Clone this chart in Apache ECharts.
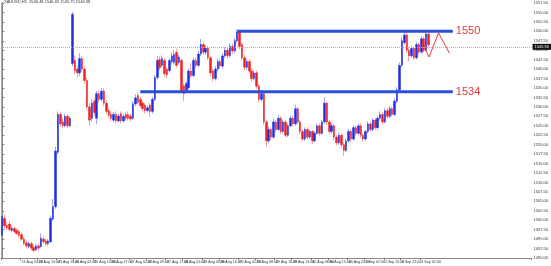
<!DOCTYPE html>
<html><head><meta charset="utf-8">
<script src="https://cdn.jsdelivr.net/npm/echarts@6/dist/echarts.min.js"></script>
<style>html,body{margin:0;padding:0;background:#fff;overflow:hidden}#c{width:551px;height:266px}</style>
</head><body><div id="c"></div>
<script>
const headerText = 'XAUUSD,H1  1546.48 1546.69 1545.75 1546.38';
// trading sessions: [day, first hour, last hour] (H1 bars)
const sessions = [['22 Aug',19,23],['23 Aug',0,23],['26 Aug',1,23],['27 Aug',1,23],['28 Aug',1,23],['29 Aug',1,23],['30 Aug',1,23],['2 Sep',1,23],['3 Sep',1,10]];
const firstLabel = '22 Aug 2019';
// [open, close, low, high]
const candles = [
[1496.0,1501.0,1495.2,1503.0],[1500.5,1498.5,1497.8,1501.5],[1498.6,1498.0,1497.4,1499.6],[1499.0,1497.5,1497.0,1499.8],
[1497.3,1497.9,1496.8,1498.6],[1497.8,1497.0,1496.5,1498.4],[1497.3,1496.5,1496.0,1497.9],[1497.0,1496.0,1495.4,1497.6],
[1496.2,1495.0,1494.6,1496.8],[1495.0,1493.8,1493.3,1495.6],[1494.0,1493.2,1492.6,1494.6],[1493.0,1493.8,1492.5,1494.4],
[1493.8,1492.6,1492.0,1494.3],[1492.8,1492.0,1491.5,1493.4],[1492.2,1493.2,1491.8,1493.8],[1493.2,1492.6,1492.0,1493.9],
[1493.0,1495.2,1492.8,1496.5],[1495.0,1494.3,1493.8,1495.7],[1494.5,1493.8,1493.2,1495.1],[1493.8,1494.5,1493.3,1495.0],
[1494.3,1500.5,1494.0,1501.2],[1500.3,1503.6,1499.8,1505.6],[1503.6,1518.3,1503.0,1519.5],[1518.0,1528.0,1517.5,1528.8],
[1528.0,1525.5,1524.8,1528.6],[1526.0,1525.0,1524.3,1527.0],[1525.0,1527.5,1524.6,1528.2],[1527.5,1525.0,1524.4,1528.0],
[1525.0,1527.0,1524.6,1527.6],[1541.5,1554.5,1540.8,1555.2],[1542.3,1539.6,1538.6,1543.6],[1540.0,1539.0,1537.8,1541.0],
[1539.0,1542.8,1538.2,1544.2],[1542.8,1540.0,1539.2,1543.6],[1540.0,1537.0,1536.2,1540.8],[1537.0,1530.0,1529.2,1537.8],
[1530.0,1526.5,1525.0,1531.0],[1527.0,1531.0,1526.2,1532.0],[1531.5,1528.5,1527.6,1532.2],[1527.0,1533.5,1525.5,1534.2],
[1533.5,1532.0,1531.2,1534.4],[1532.0,1534.2,1531.4,1535.0],[1534.2,1531.0,1530.2,1535.0],[1531.0,1528.8,1528.0,1531.8],
[1529.0,1527.8,1527.0,1529.8],[1528.0,1527.0,1526.2,1528.8],[1526.5,1528.0,1526.0,1528.6],[1528.0,1526.3,1525.6,1528.8],
[1526.3,1527.6,1525.8,1528.2],[1528.2,1526.3,1525.6,1528.8],[1526.3,1527.5,1525.8,1528.0],[1528.0,1527.0,1526.4,1528.6],
[1528.0,1527.0,1526.4,1528.8],[1527.6,1526.8,1526.2,1528.2],[1527.0,1530.8,1526.6,1531.6],[1530.8,1532.4,1530.2,1533.4],
[1533.0,1531.2,1530.6,1533.8],[1532.0,1530.3,1529.8,1532.6],[1531.0,1529.5,1528.8,1531.6],[1530.5,1529.0,1528.2,1531.0],
[1529.0,1529.8,1528.4,1530.4],[1530.5,1528.8,1527.2,1531.0],[1528.8,1532.0,1528.2,1532.6],[1532.0,1537.8,1531.6,1538.4],
[1537.8,1542.3,1537.2,1543.4],[1542.5,1540.4,1539.6,1543.4],[1541.0,1542.8,1540.4,1543.6],[1542.3,1538.8,1538.0,1543.0],
[1540.0,1538.5,1537.6,1540.6],[1539.6,1542.3,1539.0,1543.0],[1542.0,1543.5,1541.4,1544.4],[1541.8,1543.9,1541.2,1545.0],
[1544.4,1541.0,1540.4,1545.4],[1541.8,1543.2,1541.2,1543.8],[1542.3,1534.3,1533.6,1543.0],[1535.6,1533.5,1531.6,1536.2],
[1534.3,1536.2,1533.8,1536.8],[1535.1,1539.5,1534.6,1540.2],[1539.5,1538.3,1537.6,1541.6],[1538.3,1542.3,1537.8,1543.0],
[1542.3,1541.0,1540.2,1543.0],[1541.0,1544.0,1540.6,1544.8],[1544.0,1546.5,1543.4,1548.0],[1546.5,1544.5,1543.8,1547.2],
[1544.5,1545.5,1543.8,1546.4],[1545.5,1543.0,1542.4,1546.2],[1543.0,1539.0,1538.2,1543.6],[1539.5,1537.5,1536.6,1540.2],
[1537.5,1540.0,1537.0,1540.8],[1540.0,1542.0,1539.4,1542.8],[1542.0,1540.8,1540.0,1542.8],[1540.8,1543.5,1540.2,1544.2],
[1543.5,1545.0,1543.0,1545.8],[1545.0,1543.6,1542.8,1545.6],[1543.6,1546.0,1543.0,1546.8],[1546.0,1544.8,1544.0,1546.8],
[1544.8,1547.5,1544.2,1548.2],[1547.5,1549.8,1547.0,1550.5],[1549.8,1546.0,1545.2,1550.2],[1546.5,1543.0,1542.2,1547.0],
[1543.0,1540.5,1539.6,1543.8],[1540.5,1542.0,1539.8,1542.8],[1542.0,1539.5,1538.8,1542.6],[1539.5,1537.5,1536.8,1540.2],
[1537.5,1539.0,1537.0,1539.8],[1539.0,1535.5,1534.8,1539.6],[1535.5,1532.0,1531.2,1536.0],[1532.0,1533.5,1531.4,1534.4],
[1533.5,1526.0,1525.2,1534.0],[1526.0,1521.0,1519.5,1526.6],[1521.0,1524.0,1520.4,1524.8],[1524.0,1522.0,1521.2,1524.6],
[1522.0,1526.0,1521.6,1526.8],[1526.0,1524.0,1523.2,1526.6],[1524.0,1527.0,1523.6,1527.8],[1527.0,1523.5,1522.8,1527.6],
[1523.5,1526.0,1523.0,1526.6],[1526.0,1522.5,1521.8,1526.6],[1522.5,1525.0,1522.0,1525.6],[1525.0,1527.0,1524.6,1527.8],
[1527.0,1525.5,1524.8,1527.6],[1525.5,1529.5,1525.0,1530.5],[1529.5,1526.0,1525.4,1530.0],[1526.0,1523.5,1522.8,1526.6],
[1523.5,1521.5,1520.8,1524.0],[1521.5,1524.0,1521.0,1524.6],[1524.0,1522.0,1521.4,1524.6],[1522.0,1523.5,1521.4,1524.0],
[1523.5,1521.0,1520.2,1524.0],[1521.0,1523.0,1520.6,1523.6],[1523.0,1525.0,1522.6,1525.6],[1525.0,1523.0,1522.4,1525.6],
[1523.0,1526.0,1522.6,1526.6],[1526.0,1531.0,1525.6,1532.5],[1531.0,1526.0,1525.2,1531.4],[1526.0,1523.5,1522.8,1526.6],
[1523.5,1525.0,1523.0,1525.6],[1525.0,1522.0,1521.2,1525.6],[1522.0,1520.5,1519.8,1522.6],[1520.5,1522.5,1520.0,1523.2],
[1522.5,1520.0,1519.2,1523.0],[1520.0,1518.5,1517.0,1520.6],[1518.5,1521.0,1518.0,1521.6],[1521.0,1523.5,1520.6,1524.2],
[1523.5,1521.5,1520.8,1524.0],[1521.5,1524.5,1521.0,1525.2],[1524.5,1523.0,1522.4,1525.0],[1523.0,1525.0,1522.6,1525.6],
[1525.0,1522.5,1521.8,1525.6],[1522.5,1521.5,1520.8,1523.0],[1521.5,1523.5,1521.0,1524.0],[1523.5,1525.5,1523.0,1526.2],
[1525.5,1524.0,1523.4,1526.0],[1524.0,1526.5,1523.6,1527.0],[1526.5,1524.5,1523.8,1527.0],[1524.5,1527.0,1524.0,1527.6],
[1527.0,1528.0,1526.4,1528.8],[1528.0,1526.0,1525.4,1528.6],[1526.0,1529.0,1525.6,1529.6],[1529.0,1527.5,1526.8,1529.6],
[1527.5,1529.5,1527.0,1530.2],[1529.5,1528.0,1527.4,1530.0],[1528.0,1531.5,1527.6,1532.2],[1531.5,1534.5,1531.0,1535.2],
[1534.5,1541.0,1534.0,1541.8],[1541.0,1547.5,1540.4,1548.4],[1547.0,1549.0,1546.4,1550.0],[1549.0,1545.0,1544.2,1549.6],
[1545.0,1543.5,1542.0,1545.8],[1543.5,1545.5,1543.0,1546.2],[1545.5,1543.0,1542.4,1546.0],[1543.0,1546.5,1542.6,1547.2],
[1546.5,1544.5,1543.8,1547.0],[1544.5,1548.0,1544.0,1548.8],[1548.0,1545.0,1544.4,1548.6],[1545.0,1549.3,1544.6,1550.0],
[1549.3,1546.4,1545.8,1549.8]
];
const futureSlots = 42;
const resistance = 1550, support = 1534;
const resistanceFrom = 97, supportFrom = 57, levelTo = 186;
const projX = [174.8, 176.2, 180.1, 184.6];
const projY = [1545.0, 1543.2, 1549.6, 1544.2];
const currentPrice = 1545.9;
const yMin = 1490, yMax = 1557.5, yStep = 2.5;

const categories = [];
sessions.forEach(([d, h0, h1]) => { for (let h = h0; h <= h1; h++) categories.push(d + ' ' + String(h).padStart(2, '0') + ':00'); });
categories[0] = firstLabel;
const nBars = categories.length;
for (let i = 0; i < futureSlots; i++) categories.push('');
const N = categories.length;
const showTick = (i) => i < nBars && (i % 15 === 0 || i % 15 === 8);
const bodies = candles.map(([o, c]) => [o, c, Math.min(o, c), Math.max(o, c)]);

const chart = echarts.init(document.getElementById('c'), null, {renderer: 'canvas'});
chart.setOption({
  animation: false,
  title: {text: headerText, left: 4, top: 0, padding: 0, textStyle: {fontSize: 4, fontWeight: 'normal', color: '#333', fontFamily: 'Liberation Sans'}},
  grid: {left: 1, right: 14, top: 3, bottom: 8, containLabel: false},
  xAxis: [
    {type: 'category', data: categories, boundaryGap: true,
     axisLine: {lineStyle: {color: '#888', width: 1}},
     axisTick: {show: true, interval: (i) => showTick(i), length: 2, lineStyle: {color: '#777'}},
     axisLabel: {interval: (i) => showTick(i), fontSize: 3.6, color: '#333', margin: 2, align: 'left', fontFamily: 'Liberation Sans'},
     splitLine: {show: false}},
    {type: 'value', min: -0.5, max: N - 0.5, show: false}
  ],
  yAxis: [
    {type: 'value', position: 'right', min: yMin, max: yMax, interval: yStep, scale: true,
     axisLine: {show: true, lineStyle: {color: '#888'}},
     axisTick: {show: true, length: 2, lineStyle: {color: '#777'}},
     axisLabel: {fontSize: 4, color: '#333', margin: 2, formatter: (v) => v.toFixed(2), fontFamily: 'Liberation Sans'},
     splitLine: {show: false}},
    {type: 'value', position: 'left', min: yMin, max: yMax, show: true,
     axisLine: {show: true, lineStyle: {color: '#aaa'}}, axisTick: {show: false}, axisLabel: {show: false}, splitLine: {show: false}}
  ],
  series: [
    {type: 'candlestick', name: 'wicks', data: candles, barWidth: 1, xAxisIndex: 0, yAxisIndex: 0,
     itemStyle: {color: 'transparent', color0: 'transparent', borderColor: '#a3a3ee', borderColor0: '#f2a4a4', borderWidth: 1}},
    {type: 'candlestick', name: 'bodies', data: bodies, barWidth: 2, xAxisIndex: 0, yAxisIndex: 0,
     itemStyle: {color: '#1f2fe6', color0: '#ee2020', borderColor: '#1f2fe6', borderColor0: '#ee2020', borderWidth: 0.5},
     markLine: {silent: true, symbol: 'none', data: [{yAxis: currentPrice}],
       lineStyle: {type: 'dotted', color: '#b0b0b0', width: 1},
       label: {show: true, position: 'end', formatter: currentPrice.toFixed(2), fontSize: 4, color: '#fff', backgroundColor: '#111', padding: [1, 2], distance: 1}}},
    {type: 'line', xAxisIndex: 1, yAxisIndex: 0, data: [[resistanceFrom, resistance], [levelTo, resistance]], symbol: 'none', silent: true,
     lineStyle: {color: '#2b4fd8', width: 3},
     endLabel: {show: true, formatter: String(resistance), color: '#e83a3a', fontSize: 11, distance: 3, fontFamily: 'Liberation Sans'}},
    {type: 'line', xAxisIndex: 1, yAxisIndex: 0, data: [[supportFrom, support], [levelTo, support]], symbol: 'none', silent: true,
     lineStyle: {color: '#2b4fd8', width: 3},
     endLabel: {show: true, formatter: String(support), color: '#e83a3a', fontSize: 11, distance: 3, fontFamily: 'Liberation Sans'}},
    {type: 'line', xAxisIndex: 1, yAxisIndex: 0, data: projX.map((x, i) => [x, projY[i]]), symbol: 'none', silent: true,
     lineStyle: {color: '#e43b3b', width: 1}}
  ]
});
</script></body></html>
